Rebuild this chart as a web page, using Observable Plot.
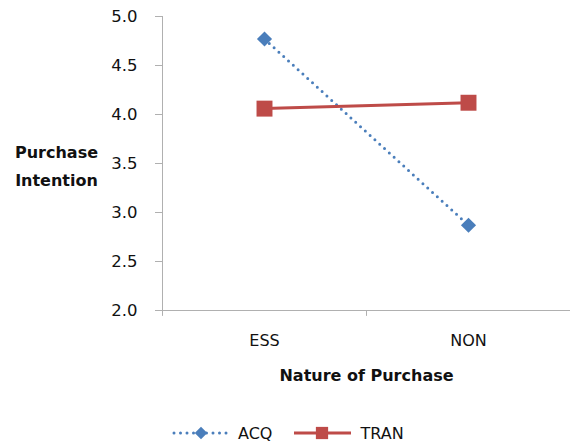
<!DOCTYPE html>
<html>
<head>
<meta charset="utf-8">
<script src="https://cdn.jsdelivr.net/npm/d3@7"></script>
<script src="https://cdn.jsdelivr.net/npm/@observablehq/plot@0.6"></script>
<style>
  body { margin: 0; background: #fff; font-family: "DejaVu Sans", sans-serif; }
  #legend { display: flex; justify-content: flex-start; align-items: center; height: 22px; margin-top: 10px; font-size: 16px; color: #111; }
  #legend .item { display: flex; align-items: center; }
</style>
</head>
<body>
<div id="chart"></div>
<div id="legend"></div>
<script>
const categories = ["ESS", "NON"];
const seriesNames = ["ACQ", "TRAN"];
const acqValues = [4.77, 2.87];
const tranValues = [4.06, 4.12];
const yTicks = [2.0, 2.5, 3.0, 3.5, 4.0, 4.5, 5.0];
const yLabel = "Purchase\nIntention";
const xLabel = "Nature of Purchase";

const colors = {ACQ: "#4a7ebb", TRAN: "#be4b48"};
const data = [
  ...categories.map((c, i) => ({series: "ACQ", cat: c, value: acqValues[i]})),
  ...categories.map((c, i) => ({series: "TRAN", cat: c, value: tranValues[i]}))
];
const acq = data.filter(d => d.series === "ACQ");
const tran = data.filter(d => d.series === "TRAN");

const W = 570, H = 412, ML = 162, MR = 0;
const bw = (W - ML - MR) / categories.length;

const chart = Plot.plot({
  width: W, height: H,
  marginLeft: ML, marginRight: MR, marginTop: 16, marginBottom: H - 310,
  style: {fontFamily: "DejaVu Sans, sans-serif", fontSize: "16px", color: "#111", background: "#fff", overflow: "visible"},
  x: {type: "band", domain: categories, padding: 0, label: null},
  y: {domain: [2, 5], label: null},
  marks: [
    Plot.axisY({ticks: yTicks, tickFormat: d3.format(".1f"), tickSize: 7, tickPadding: 18, stroke: "#b0b0b0", fontSize: 16.5, label: null}),
    Plot.axisX({tickSize: 0, tickPadding: 24, fontSize: 16, label: null}),
    Plot.frame({anchor: "left", stroke: "#b0b0b0"}),
    Plot.frame({anchor: "bottom", stroke: "#b0b0b0"}),
    Plot.ruleX(categories.slice(1), {x: d => d, dx: -bw / 2, y1: 2, y2: 1.94, stroke: "#b0b0b0", clip: false}),
    Plot.ruleX(categories.slice(0, 1), {x: d => d, dx: -bw / 2, y1: 2, y2: 1.94, stroke: "#b0b0b0", clip: false}),
    Plot.line(acq, {x: "cat", y: "value", stroke: colors.ACQ, strokeWidth: 3, strokeDasharray: "0 6.5", strokeLinecap: "round"}),
    Plot.line(tran, {x: "cat", y: "value", stroke: colors.TRAN, strokeWidth: 3}),
    Plot.dot(acq, {x: "cat", y: "value", symbol: "diamond2", r: 6.8, fill: colors.ACQ, stroke: "none"}),
    Plot.dot(tran, {x: "cat", y: "value", symbol: "square", r: 9, fill: colors.TRAN, stroke: "none"}),
    Plot.text([yLabel], {frameAnchor: "left", dx: -106, dy: 0, text: d => d, fontWeight: "bold", fontSize: 16, lineHeight: 1.75, textAnchor: "middle", fill: "#111"}),
    Plot.text([xLabel], {frameAnchor: "bottom", dy: 70, text: d => d, fontWeight: "bold", fontSize: 16, fill: "#111"})
  ]
});
document.getElementById("chart").appendChild(chart);

// Legend
const legend = d3.select("#legend");
seriesNames.forEach((name, i) => {
  const item = legend.append("div").attr("class", "item")
    .style("margin-left", i === 0 ? "172px" : "22px");
  const svg = item.append("svg").attr("width", 58).attr("height", 20);
  if (name === "ACQ") {
    svg.append("line").attr("x1", 2).attr("x2", 56).attr("y1", 10).attr("y2", 10)
      .attr("stroke", colors.ACQ).attr("stroke-width", 3).attr("stroke-dasharray", "0 6.5").attr("stroke-linecap", "round");
    svg.append("path").attr("d", d3.symbol(d3.symbolDiamond2, 100)()).attr("transform", "translate(29,10)").attr("fill", colors.ACQ);
  } else {
    svg.append("line").attr("x1", 0).attr("x2", 57).attr("y1", 10).attr("y2", 10)
      .attr("stroke", colors.TRAN).attr("stroke-width", 3);
    svg.append("path").attr("d", d3.symbol(d3.symbolSquare, 150)()).attr("transform", "translate(28,10)").attr("fill", colors.TRAN);
  }
  item.append("span").text(name).style("margin-left", "8px");
});
</script>
</body>
</html>
